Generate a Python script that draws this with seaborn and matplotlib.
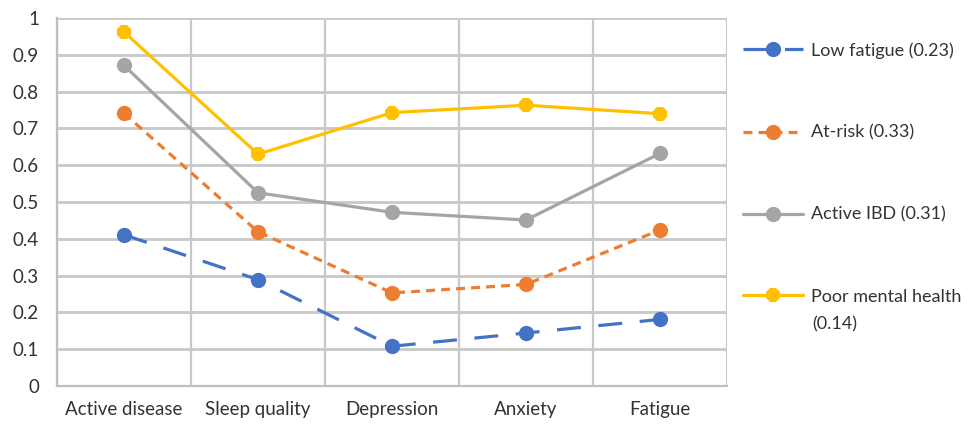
import numpy as np
import pandas as pd
import matplotlib
matplotlib.use("Agg")
import matplotlib.pyplot as plt
import seaborn as sns

# data
categories = ["Active disease", "Sleep quality", "Depression", "Anxiety", "Fatigue"]
low_fatigue = [0.411, 0.289, 0.108, 0.144, 0.181]
at_risk = [0.741, 0.419, 0.253, 0.276, 0.424]
active_ibd = [0.871, 0.525, 0.472, 0.451, 0.632]
poor_mental = [0.962, 0.630, 0.743, 0.763, 0.740]
series_names = ["Low fatigue (0.23)", "At-risk (0.33)", "Active IBD (0.31)", "Poor mental health"]
y_ticks = [0, 0.1, 0.2, 0.3, 0.4, 0.5, 0.6, 0.7, 0.8, 0.9, 1]
y_tick_labels = ["0", "0.1", "0.2", "0.3", "0.4", "0.5", "0.6", "0.7", "0.8", "0.9", "1"]

sns.set_style("white")
plt.rcParams["font.family"] = ["Lato", "DejaVu Sans"]

colors = ["#4472C4", "#ED7D31", "#A5A5A5", "#FFC000"]
dashes = [(7.5, 5.5), (2.8, 1.9), None, None]
markers = ["o", "o", "o", "8"]
txt = "#333333"
grid_c = "#C8C8C8"
fs = 13.5
fs_leg = 13

fig = plt.figure(figsize=(9.69, 4.25), dpi=100)
ax = fig.add_axes([57 / 969, 1 - 386 / 425, 670 / 969, 368 / 425])

x = np.arange(len(categories))
handles = []
for name, vals, c, d, m in zip(series_names, [low_fatigue, at_risk, active_ibd, poor_mental],
                               colors, dashes, markers):
    df = pd.DataFrame({"x": x, "y": vals})
    sns.lineplot(data=df, x="x", y="y", ax=ax, color=c, linewidth=2.3,
                 marker=m, markersize=11, markeredgewidth=0, sort=False, label=name)
    line = ax.lines[-1]
    if d is not None:
        line.set_dashes(d)
    handles.append(line)

ax.set_xlim(-0.5, len(categories) - 0.5)
ax.set_ylim(0, 1)
ax.set_xticks(x)
ax.set_xticklabels(categories, fontsize=fs, color=txt)
ax.set_xticks(np.arange(len(categories) + 1) - 0.5, minor=True)
ax.set_yticks(y_ticks)
ax.set_yticklabels(y_tick_labels, fontsize=fs, color=txt)
ax.set_xlabel("")
ax.set_ylabel("")
ax.tick_params(axis="both", which="both", length=0)
ax.tick_params(axis="x", pad=11)
ax.tick_params(axis="y", pad=13)

# grid: horizontal at every y tick, vertical between categories
ax.yaxis.grid(True, which="major", color=grid_c, linewidth=2.0, zorder=1)
ax.xaxis.grid(True, which="minor", color=grid_c, linewidth=1.6)
ax.set_axisbelow(True)
for side in ["top", "right"]:
    ax.spines[side].set_visible(False)
for side in ["left", "bottom"]:
    ax.spines[side].set_color("#BFBFBF")
    ax.spines[side].set_linewidth(1.6)

ax.get_legend().remove()
leg = fig.legend(handles=handles, labels=series_names, loc="upper left",
                 bbox_to_anchor=(727 / 969, 1 - 26 / 425), frameon=False,
                 fontsize=fs_leg, labelspacing=3.65, handlelength=3.3,
                 handletextpad=0.45, labelcolor=txt)
fig.text(812 / 969, 1 - 324 / 425, "(0.14)", fontsize=fs_leg, color=txt, va="center")

fig.savefig("out.png", dpi=100)
